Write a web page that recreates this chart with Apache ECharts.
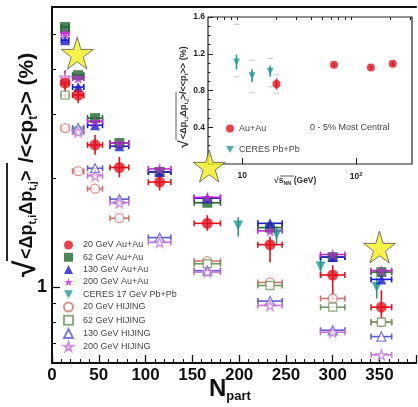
<!DOCTYPE html>
<html>
<head>
<meta charset="utf-8">
<script src="https://cdn.jsdelivr.net/npm/echarts@6/dist/echarts.min.js"></script>
<style>
  html, body { margin: 0; padding: 0; background: #fff; }
  #main { width: 418px; height: 407px; }
</style>
</head>
<body>
<div id="main"></div>
<script>
// ---- main panel: sigma_pt correlation vs Npart ----
const npart = [14, 28, 46, 72, 115, 166, 233, 300, 352];
const npartErr = [4, 6, 8, 10, 12, 14, 13, 13, 11];

const auau20 = [3.66, 3.39, 2.47, 2.14, 1.95, 1.50, 1.31, 1.08, 0.88];
const auau20Lo = [3.33, 3.22, 2.32, 2.01, 1.85, 1.43, 1.17, 0.92, 0.81];
const auau20Hi = [3.97, 3.57, 2.63, 2.29, 2.05, 1.58, 1.38, 1.15, 0.98];
const auau62 = [5.23, 3.85, 2.93, 2.50, 2.08, 1.71, 1.46, 1.21, 1.10];
const auau130 = [4.81, 3.57, 2.80, 2.45, 2.08, 1.76, 1.50, 1.21, 1.05];
const auau200 = [5.03, 3.78, 2.87, 2.50, 2.12, 1.77, 1.43, 1.23, 1.11];

const ceresNpart = [199, 240, 287, 347];
const ceres17 = [1.48, 1.40, 1.14, 1.00];
const ceres17Lo = [1.38, 1.31, 1.06, 0.93];
const ceres17Hi = [1.56, 1.47, 1.21, 1.06];

const hijing20 = [2.75, 2.09, 1.87, 1.55, null, 1.18, 1.03, 0.93, 0.80];
const hijing62 = [3.39, 2.70, null, null, null, 1.16, 1.01, 0.88, 0.80];
const hijing130 = [null, 2.75, 2.13, 1.75, 1.37, 1.11, 0.915, 0.76, 0.73];
const hijing200 = [3.78, 2.68, 2.03, 1.71, 1.33, 1.10, 0.89, 0.75, 0.65];

const highlightNpart = [27, 168, 350];
const highlightVals = [4.43, 2.16, 1.29];

const xTickLabels = [0, 50, 100, 150, 200, 250, 300, 350];
const yTickLabels = [1];
const yMinorTicks = [0.7, 0.8, 0.9, 2, 3, 4, 5];

// ---- inset: 0-5% most central vs sqrt(sNN) ----
const insetAuAuE = [20, 64, 135, 210];
const insetAuAu = [0.87, 1.08, 1.05, 1.09];
const insetAuAuLo = [0.81, 1.06, 1.03, 1.07];
const insetAuAuHi = [0.93, 1.10, 1.07, 1.11];
const insetAuAuSysLo = [0.77];
const insetAuAuSysHi = [0.97];
const insetCeresE = [8.9, 12.2, 17.6];
const insetCeres = [1.11, 0.96, 1.01];
const insetCeresLo = [1.03, 0.89, 0.95];
const insetCeresHi = [1.19, 1.03, 1.07];
const insetCeresSysLo = [0.95, 0.78, 0.84];
const insetCeresSysHi = [1.52, 1.13, 1.15];
const insetXMinor = [6, 7, 8, 9, 20, 30, 40, 50, 60, 70, 80, 90, 200, 300];

const RED = '#e5101b', GREEN = '#1d6a2c', BLUE = '#1a1ad2', MAG = '#c12ad3', TEAL = '#1f9a90';
const H20 = '#d27272', H62 = '#6f9a62', H130 = '#5b5bd0', H200 = '#c775da';
const STAR = 'path://M50,0 L61,35 L98,35 L68,57 L79,91 L50,70 L21,91 L32,57 L2,35 L39,35 Z';
const DOWN = 'path://M0,0 L10,0 L5,9 Z';
const FONT = 'Liberation Sans, Arial, sans-serif';

function errBars(xs, ys, lo, hi, xerr, color, opts) {
  const data = [];
  xs.forEach((x, i) => {
    if (ys[i] == null) return;
    data.push([x, ys[i], lo ? lo[i] : ys[i], hi ? hi[i] : ys[i], xerr ? xerr[i] : 0]);
  });
  return Object.assign({
    type: 'custom',
    silent: true,
    z: 2,
    renderItem(params, api) {
      const x = api.value(0), y = api.value(1), l = api.value(2), h = api.value(3), dx = api.value(4);
      const kids = [];
      const st = { stroke: color, lineWidth: 1.6 };
      if (dx) {
        const a = api.coord([x - dx, y]), b = api.coord([x + dx, y]);
        kids.push({ type: 'line', shape: { x1: a[0], y1: a[1], x2: b[0], y2: b[1] }, style: st });
        kids.push({ type: 'line', shape: { x1: a[0], y1: a[1] - 3, x2: a[0], y2: a[1] + 3 }, style: st });
        kids.push({ type: 'line', shape: { x1: b[0], y1: b[1] - 3, x2: b[0], y2: b[1] + 3 }, style: st });
      }
      if (l !== h) {
        const p = api.coord([x, l]), q = api.coord([x, h]);
        kids.push({ type: 'line', shape: { x1: p[0], y1: p[1], x2: q[0], y2: q[1] }, style: st });
      }
      return { type: 'group', children: kids };
    },
    data: data
  }, opts);
}

function sysCaps(xs, lo, hi, opts) {
  const data = lo.map((v, i) => [xs[i], lo[i], hi[i]]);
  return Object.assign({
    type: 'custom',
    silent: true,
    z: 2,
    renderItem(params, api) {
      const p = api.coord([api.value(0), api.value(1)]);
      const q = api.coord([api.value(0), api.value(2)]);
      const st = { stroke: '#c4c4c4', lineWidth: 1 };
      return { type: 'group', children: [
        { type: 'line', shape: { x1: p[0] - 3, y1: p[1], x2: p[0] + 3, y2: p[1] }, style: st },
        { type: 'line', shape: { x1: q[0] - 3, y1: q[1], x2: q[0] + 3, y2: q[1] }, style: st }
      ] };
    },
    data: data
  }, opts);
}

function pts(xs, ys) {
  const out = [];
  xs.forEach((x, i) => { if (ys[i] != null) out.push([x, ys[i]]); });
  return out;
}

function scatter(name, xs, ys, symbol, size, color, open, extra) {
  return Object.assign({
    type: 'scatter',
    name: name,
    symbol: symbol,
    symbolSize: size,
    z: 4,
    itemStyle: open
      ? { color: '#fff', borderColor: color, borderWidth: 1.3 }
      : { color: color },
    data: pts(xs, ys)
  }, extra || {});
}

const chart = echarts.init(document.getElementById('main'));

const option = {
  animation: false,
  backgroundColor: '#fff',
  grid: [
    { left: 52, top: 7, right: 2, bottom: 44 },
    { left: 208, top: 17, right: 6, bottom: 243, show: true, backgroundColor: '#fff', borderColor: '#222', borderWidth: 1.2 }
  ],
  xAxis: [
    {
      gridIndex: 0, type: 'value', min: 0, max: 389, interval: 50,
      axisLine: { lineStyle: { color: '#111', width: 2 } },
      axisTick: { inside: true, length: 8, lineStyle: { color: '#111', width: 1.3 } },
      minorTick: { show: true, splitNumber: 5, length: 4, lineStyle: { color: '#111', width: 1.1 } },
      axisLabel: { customValues: xTickLabels, margin: 4, fontSize: 17, fontWeight: 'bold', color: '#111', fontFamily: FONT },
      splitLine: { show: false }
    },
    {
      gridIndex: 0, type: 'value', min: 0, max: 389, position: 'top',
      axisLine: { lineStyle: { color: '#111', width: 2 } },
      axisTick: { show: false }, axisLabel: { show: false }, splitLine: { show: false }
    },
    {
      gridIndex: 1, type: 'log', logBase: 10, min: 5, max: 310,
      axisLine: { show: false },
      axisTick: { inside: true, length: 6, customValues: [10, 100], lineStyle: { color: '#222' } },
      axisLabel: {
        customValues: [10, 100], margin: 7, fontSize: 8.5, fontWeight: 'bold', color: '#222', fontFamily: FONT,
        formatter: v => (v >= 99 ? '{b|10}{s|2}' : '{b|10}'),
        rich: { b: { fontSize: 8.5, fontWeight: 'bold', color: '#222' }, s: { fontSize: 6, fontWeight: 'bold', color: '#222', verticalAlign: 'top', padding: [0, 0, 5, 0] } }
      },
      splitLine: { show: false }
    },
    {
      gridIndex: 1, type: 'log', logBase: 10, min: 5, max: 310,
      axisLine: { show: false },
      axisTick: { inside: true, length: 3, customValues: insetXMinor, lineStyle: { color: '#222' } },
      axisLabel: { show: false }, splitLine: { show: false }
    }
  ],
  yAxis: [
    {
      gridIndex: 0, type: 'log', logBase: 10, min: 0.617, max: 5.94, position: 'left',
      axisLine: { lineStyle: { color: '#111', width: 2 } },
      axisTick: { inside: true, length: 8, customValues: yTickLabels, lineStyle: { color: '#111', width: 1.3 } },
      axisLabel: { customValues: yTickLabels, margin: 5, fontSize: 18, fontWeight: 'bold', color: '#111', fontFamily: FONT },
      splitLine: { show: false }
    },
    {
      gridIndex: 0, type: 'log', logBase: 10, min: 0.617, max: 5.94, position: 'left',
      axisLine: { show: false },
      axisTick: { inside: true, length: 4, customValues: yMinorTicks, lineStyle: { color: '#111', width: 1.1 } },
      axisLabel: { show: false }, splitLine: { show: false }
    },
    {
      gridIndex: 1, type: 'value', min: 0, max: 1.6, interval: 0.4,
      axisLine: { show: false },
      axisTick: { inside: true, length: 5, lineStyle: { color: '#222' } },
      minorTick: { show: true, splitNumber: 4, length: 2.5, lineStyle: { color: '#222' } },
      axisLabel: { margin: 3, fontSize: 8.5, fontWeight: 'bold', color: '#222', fontFamily: FONT, formatter: v => (v === 0 ? '' : v.toFixed(1)) },
      splitLine: { show: false }
    }
  ],
  legend: [
    {
      orient: 'vertical', left: 63, top: 240, padding: 0, itemWidth: 9, itemHeight: 9, itemGap: 2.3,
      textStyle: { fontSize: 9, lineHeight: 10, color: '#444', fontFamily: FONT, padding: [0, 0, 0, 5] },
      data: ['20 GeV Au+Au', '62 GeV Au+Au', '130 GeV Au+Au', '200 GeV Au+Au', 'CERES 17 GeV Pb+Pb',
             '20 GeV HIJING', '62 GeV HIJING', '130 GeV HIJING', '200 GeV HIJING']
    },
    {
      orient: 'vertical', left: 226, top: 124, padding: 0, itemWidth: 8, itemHeight: 8, itemGap: 12,
      textStyle: { fontSize: 9, lineHeight: 8, color: '#444', fontFamily: FONT },
      data: ['Au+Au', 'CERES Pb+Pb']
    }
  ],
  series: [
    // HIJING (open)
    errBars(npart, hijing20, null, null, npartErr, H20, { xAxisIndex: 0, yAxisIndex: 0 }),
    errBars(npart, hijing62, null, null, npartErr, H62, { xAxisIndex: 0, yAxisIndex: 0 }),
    errBars(npart, hijing130, null, null, npartErr, H130, { xAxisIndex: 0, yAxisIndex: 0 }),
    errBars(npart, hijing200, null, null, npartErr, H200, { xAxisIndex: 0, yAxisIndex: 0 }),
    scatter('20 GeV HIJING', npart, hijing20, 'circle', 9, H20, true),
    scatter('62 GeV HIJING', npart, hijing62, 'rect', 8, H62, true),
    scatter('130 GeV HIJING', npart, hijing130, 'triangle', 9, H130, true),
    scatter('200 GeV HIJING', npart, hijing200, STAR, 10, H200, true),
    // CERES
    errBars(ceresNpart, ceres17, ceres17Lo, ceres17Hi, null, TEAL, { xAxisIndex: 0, yAxisIndex: 0 }),
    scatter('CERES 17 GeV Pb+Pb', ceresNpart, ceres17, DOWN, 10, TEAL, false),
    // Au+Au
    errBars(npart, auau62, null, null, npartErr, GREEN, { xAxisIndex: 0, yAxisIndex: 0 }),
    errBars(npart, auau130, null, null, npartErr, BLUE, { xAxisIndex: 0, yAxisIndex: 0 }),
    errBars(npart, auau200, null, null, npartErr, MAG, { xAxisIndex: 0, yAxisIndex: 0 }),
    errBars(npart, auau20, auau20Lo, auau20Hi, npartErr, RED, { xAxisIndex: 0, yAxisIndex: 0 }),
    scatter('62 GeV Au+Au', npart, auau62, 'rect', 10, GREEN, false),
    scatter('130 GeV Au+Au', npart, auau130, 'triangle', 10, BLUE, false),
    scatter('200 GeV Au+Au', npart, auau200, STAR, 12, MAG, false),
    scatter('20 GeV Au+Au', npart, auau20, 'circle', 11, RED, false, { z: 5 }),
    // highlight stars
    {
      type: 'scatter', name: 'highlight', symbol: STAR, symbolSize: 32, z: 8,
      itemStyle: { color: '#f6f01a', borderColor: '#555', borderWidth: 1 },
      data: pts(highlightNpart, highlightVals)
    },
    // inset
    sysCaps(insetCeresE, insetCeresSysLo, insetCeresSysHi, { xAxisIndex: 2, yAxisIndex: 2 }),
    sysCaps(insetAuAuE, insetAuAuSysLo, insetAuAuSysHi, { xAxisIndex: 2, yAxisIndex: 2 }),
    errBars(insetCeresE, insetCeres, insetCeresLo, insetCeresHi, null, TEAL, { xAxisIndex: 2, yAxisIndex: 2 }),
    errBars(insetAuAuE, insetAuAu, insetAuAuLo, insetAuAuHi, null, RED, { xAxisIndex: 2, yAxisIndex: 2 }),
    scatter('CERES Pb+Pb', insetCeresE, insetCeres, DOWN, 7, TEAL, false, { xAxisIndex: 2, yAxisIndex: 2 }),
    scatter('Au+Au', insetAuAuE, insetAuAu, 'circle', 8, RED, false, { xAxisIndex: 2, yAxisIndex: 2 })
  ],
  graphic: [
    // main y title
    {
      type: 'group', x: 27, y: 277, rotation: Math.PI / 2,
      children: [
        { type: 'text', x: 0, y: 0, style: { text: '√', font: 'bold 30px ' + FONT, fill: '#111', verticalAlign: 'middle' } },
        { type: 'line', shape: { x1: 16, y1: -20, x2: 114, y2: -20 }, style: { stroke: '#111', lineWidth: 1.8 } },
        { type: 'text', x: 18, y: 0, style: {
            text: '{a|<Δp}{s|t,i}{a|Δp}{s|t,j}{a|>}', verticalAlign: 'middle',
            rich: { a: { font: 'bold 18px ' + FONT, fill: '#111' }, s: { font: 'bold 11px ' + FONT, fill: '#111', padding: [12, 0, 0, 0] } } } },
        { type: 'text', x: 114, y: 0, style: {
            text: '{a|/<<p}{s|t}{a|>> (%)}', verticalAlign: 'middle',
            rich: { a: { font: 'bold 21px ' + FONT, fill: '#111' }, s: { font: 'bold 12px ' + FONT, fill: '#111', padding: [13, 0, 0, 0] } } } }
      ]
    },
    // Npart title
    {
      type: 'text', left: 209, top: 377,
      style: { text: '{n|N}{s|part}', rich: { n: { font: 'bold 24px ' + FONT, fill: '#111' }, s: { font: 'bold 13px ' + FONT, fill: '#111', padding: [14, 0, 0, 0] } } }
    },
    // inset y title
    {
      type: 'group', x: 184, y: 148, rotation: Math.PI / 2,
      children: [
        { type: 'text', x: 0, y: 0, style: { text: '√', font: 'bold 14px ' + FONT, fill: '#333', verticalAlign: 'middle' } },
        { type: 'line', shape: { x1: 8, y1: -8, x2: 56, y2: -8 }, style: { stroke: '#333', lineWidth: 0.8 } },
        { type: 'text', x: 9, y: 0, style: {
            text: '{a|<Δp}{s|t,i}{a|Δp}{s|t,j}{a|>/<<p}{s|t}{a|>> (%)}', verticalAlign: 'middle',
            rich: { a: { font: 'bold 9px ' + FONT, fill: '#333' }, s: { font: 'bold 6px ' + FONT, fill: '#333', padding: [5, 0, 0, 0] } } } }
      ]
    },
    // inset x title
    {
      type: 'text', left: 274, top: 176,
      style: { text: '{a|√}{b|s}{s|NN}{a| (GeV)}', rich: { a: { font: 'bold 8.5px ' + FONT, fill: '#333' }, b: { font: 'bold 8.5px ' + FONT, fill: '#333' }, s: { font: 'bold 5.5px ' + FONT, fill: '#333', padding: [5, 0, 0, 0] } } }
    },
    { type: 'line', shape: { x1: 280, y1: 176, x2: 294, y2: 176 }, style: { stroke: '#333', lineWidth: 0.8 } },
    {
      type: 'text', left: 310, top: 123,
      style: { text: '0 - 5% Most Central', font: '9px ' + FONT, fill: '#444' }
    }
  ]
};

chart.setOption(option);
</script>
</body>
</html>
